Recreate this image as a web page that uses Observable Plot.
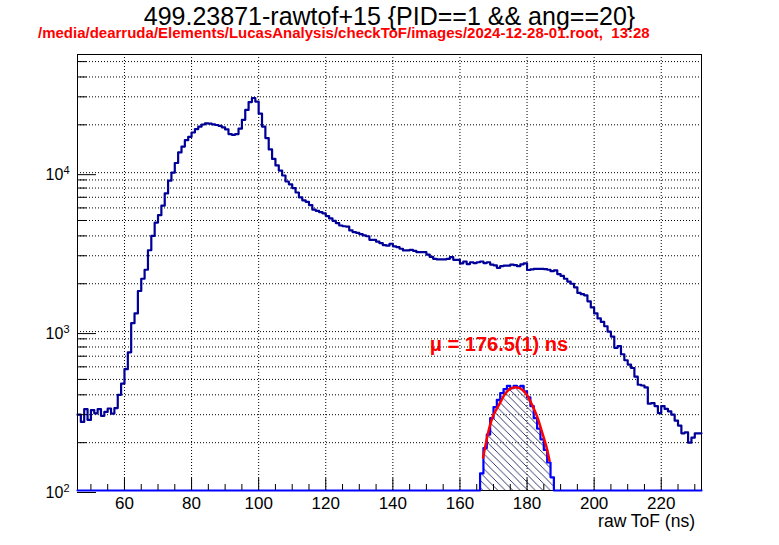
<!DOCTYPE html>
<html><head><meta charset="utf-8">
<script src="https://cdn.jsdelivr.net/npm/d3@7"></script>
<script src="https://cdn.jsdelivr.net/npm/@observablehq/plot@0.6"></script>
<style>
html,body{margin:0;padding:0;background:#fff;}
svg{display:block;}
</style>
</head><body><div id="chart"></div>
<script>
// ---------- data ----------
const binStart = 46;
const binWidth = 1;
const counts = [
  300,270,325,278,320,306,325,295,312,328,305,330,400,470,580,740,1130,1300,1800,2150,
  2450,3250,4000,4850,5400,6200,7400,8900,10000,11500,13400,14600,16000,16800,17900,18800,19500,20100,20450,20350,
  20150,19950,19700,19300,18700,17500,17300,17500,18900,21500,24800,27800,29500,28000,23500,19500,16500,14000,12200,11100,
  10300,9600,8800,8450,8000,7500,7000,6700,6550,6250,5850,5750,5650,5550,5330,5150,4980,4820,4650,4600,
  4580,4330,4225,4180,4100,4030,3980,3780,3780,3680,3600,3500,3470,3570,3440,3400,3320,3240,3240,3270,
  3220,3160,3160,3160,3050,2950,2870,2850,2850,2850,2870,2940,2830,2830,2690,2760,2660,2730,2700,2730,
  2760,2700,2730,2640,2610,2520,2580,2600,2600,2640,2620,2580,2650,2690,2440,2460,2480,2480,2480,2470,
  2450,2400,2430,2300,2240,2150,2065,2000,1900,1750,1720,1690,1550,1420,1300,1210,1150,1080,1000,930,
  790,810,720,660,620,590,520,463,458,445,352,355,340,307,340,326,315,300,275,256,
  229,232,200,215,229,229
];
const subsetStart = 166;
const subsetCounts = [128,185,225,285,335,372,410,435,455,440,455,446,455,420,385,340,285,245,210,180,150,121];
const fitX = [166.9,168.2,169.7,171.5,173.1,174.6,176.6,178.6,180.1,181.6,183.1,184.5,185.7,186.7];
const fitY = [161,221,288,342,395,430,446,430,395,342,288,232,191,154];

const xDomain = [46, 232];
const yDomain = [100, 55400];
const xMajorTicks = [60,80,100,120,140,160,180,200,220];
const xMinorTicks = [50,55,65,70,75,85,90,95,105,110,115,125,130,135,145,150,155,165,170,175,185,190,195,205,210,215,225,230];
const yMajorTicks = [100,1000,10000];
const yMajorExponents = ["2","3","4"];
const yMinorTicks = [200,300,400,500,600,700,800,900,2000,3000,4000,5000,6000,7000,8000,9000,20000,30000,40000,50000];

const titleText = "499.23871-rawtof+15 {PID==1 && ang==20}";
const subtitleText = "/media/dearruda/Elements/LucasAnalysis/checkToF/images/2024-12-28-01.root,  13:28";
const xLabel = "raw ToF (ns)";
const fitLabel = "μ = 176.5(1) ns";
const fitLabelAt = {x: 151, y: 830};

// ---------- build series ----------
const nBins = counts.length;
const mainSeries = counts.map((c, i) => ({x: binStart + i * binWidth, y: c}));
mainSeries.push({x: binStart + nBins * binWidth, y: counts[nBins - 1]});

const subsetSeries = counts.map((_, i) => {
  const x = binStart + i * binWidth;
  const j = Math.round((x - subsetStart) / binWidth);
  const c = (j >= 0 && j < subsetCounts.length) ? subsetCounts[j] : 0;
  return {x, y: Math.max(c, yDomain[0])};
});
subsetSeries.push({x: binStart + nBins * binWidth, y: yDomain[0]});

const subsetArea = subsetCounts.map((c, j) => ({x: subsetStart + j * binWidth, y: c}));
subsetArea.push({x: subsetStart + subsetCounts.length * binWidth, y: subsetCounts[subsetCounts.length - 1]});

const fitSeries = fitX.map((x, i) => ({x, y: fitY[i]}));

// ---------- plot ----------
const chart = Plot.plot({
  width: 779,
  height: 545,
  marginLeft: 77,
  marginRight: 78,
  marginTop: 54,
  marginBottom: 55,
  style: {fontFamily: "'Liberation Sans', Arial, Helvetica, sans-serif", background: "#fff", color: "#000", overflow: "visible"},
  x: {domain: xDomain, axis: null},
  y: {type: "log", domain: yDomain, axis: null},
  marks: [
    Plot.gridY(yMinorTicks.concat(yMajorTicks.slice(1)), {stroke: "#000", strokeOpacity: 1, strokeDasharray: "1,2", strokeWidth: 1}),
    Plot.gridX(xMajorTicks, {stroke: "#000", strokeOpacity: 1, strokeDasharray: "1,2", strokeWidth: 1}),
    Plot.frame({stroke: "#000", strokeWidth: 1}),
    Plot.areaY(subsetArea, {x: "x", y1: yDomain[0], y2: "y", curve: "step-after", fill: "url(#hatch3004)"}),
    Plot.lineY(subsetSeries, {x: "x", y: "y", curve: "step-after", stroke: "#0000ff", strokeWidth: 2.2}),
    Plot.lineY(mainSeries, {x: "x", y: "y", curve: "step-after", stroke: "#000099", strokeWidth: 2.2}),
    Plot.line(fitSeries, {x: "x", y: "y", curve: "natural", stroke: "#ff0000", strokeWidth: 2.5}),
    Plot.text([fitLabelAt], {x: "x", y: "y", text: () => fitLabel, textAnchor: "start", lineAnchor: "middle", fill: "#ff0000", fontSize: 20, fontWeight: "bold"}),
    Plot.axisX({ticks: xMajorTicks, tickSize: -12, tickPadding: 18, fontSize: 17, label: null, tickFormat: d => String(d)}),
    Plot.axisX({ticks: xMinorTicks, tickSize: -6, label: null, tickFormat: () => ""}),
    Plot.axisY({ticks: yMajorTicks, tickSize: -19, tickPadding: 27, fontSize: 16, dy: 2, label: null,
      tickFormat: d => "10|" + yMajorExponents[yMajorTicks.indexOf(d)]}),
    Plot.axisY({ticks: yMinorTicks, tickSize: -9.5, label: null, tickFormat: () => ""})
  ]
});

const svg = d3.select(chart);

// hatch pattern (ROOT style 3004)
const defs = svg.insert("defs", ":first-child");
const pat = defs.append("pattern")
  .attr("id", "hatch3004")
  .attr("patternUnits", "userSpaceOnUse")
  .attr("width", 7.5).attr("height", 7.5);
pat.append("path")
  .attr("d", "M-1,-1 L8.5,8.5 M-1,6.5 L1,8.5 M6.5,-1 L8.5,1")
  .attr("stroke", "#202060").attr("stroke-width", 0.9).attr("fill", "none");

// superscript exponents on y labels
svg.selectAll("g[aria-label='y-axis tick label'] text").each(function() {
  const t = d3.select(this);
  const s = t.text();
  if (s.includes("|")) {
    const [base, exp] = s.split("|");
    t.text(base);
    t.append("tspan").attr("dy", "-6").attr("font-size", 11).text(exp);
  }
});

// titles
svg.append("text")
  .attr("x", 389.5).attr("y", 25)
  .attr("text-anchor", "middle")
  .attr("font-size", 25)
  .attr("fill", "#000")
  .text(titleText);
svg.append("text")
  .attr("x", 38).attr("y", 38)
  .attr("text-anchor", "start")
  .attr("font-size", 15)
  .attr("font-weight", "bold")
  .attr("fill", "#ff0000")
  .text(subtitleText);
svg.append("text")
  .attr("x", 695).attr("y", 527)
  .attr("text-anchor", "end")
  .attr("font-size", 17.5)
  .attr("fill", "#000")
  .text(xLabel);

document.getElementById("chart").appendChild(chart);
</script>
</body></html>
